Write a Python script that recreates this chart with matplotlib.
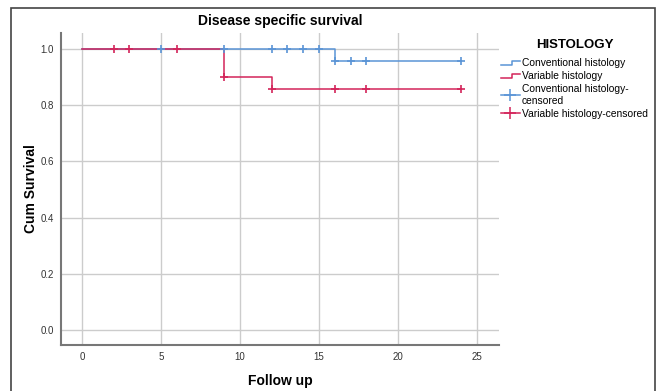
import matplotlib.pyplot as plt
from matplotlib.legend_handler import HandlerBase
from matplotlib.lines import Line2D
from matplotlib.patches import Rectangle

plt.rcParams['font.family'] = ['Liberation Sans', 'DejaVu Sans']

# Kaplan-Meier steps (time, survival)
conv_t = [0, 16, 24]
conv_s = [1.0, 0.958, 0.958]
var_t = [0, 9, 12, 24]
var_s = [1.0, 0.9, 0.857, 0.857]

# censored observations
conv_cens_t = [5, 9, 12, 13, 14, 15, 16, 17, 18, 24]
conv_cens_s = [1.0, 1.0, 1.0, 1.0, 1.0, 1.0, 0.958, 0.958, 0.958, 0.958]
var_cens_t = [2, 3, 6, 9, 12, 16, 18, 24]
var_cens_s = [1.0, 1.0, 1.0, 0.9, 0.857, 0.857, 0.857, 0.857]

blue = '#5a94d6'
red = '#d3245a'


class StepHandler(HandlerBase):
    def create_artists(self, legend, orig, xd, yd, w, h, fs, trans):
        x = [xd, xd + w * 0.6, xd + w * 0.6, xd + w]
        y = [yd + h * 0.15, yd + h * 0.15, yd + h * 0.75, yd + h * 0.75]
        return [Line2D(x, y, color=orig.get_color(), lw=1.1, transform=trans)]


class CrossHandler(HandlerBase):
    def create_artists(self, legend, orig, xd, yd, w, h, fs, trans):
        c = orig.get_color()
        ln = Line2D([xd, xd + w], [yd + h / 2] * 2, color=c, lw=1.1, transform=trans)
        mk = Line2D([xd + w / 2], [yd + h / 2], ls='none', marker='+', ms=9,
                    mew=1.1, color=c, transform=trans)
        return [ln, mk]


fig = plt.figure(figsize=(6.57, 3.91), dpi=100)
ax = fig.add_axes([0.0928, 0.1176, 0.6667, 0.798])

l1, = ax.step(conv_t, conv_s, where='post', color=blue, lw=1.1)
l2, = ax.step(var_t, var_s, where='post', color=red, lw=1.1)
c1, = ax.plot(conv_cens_t, conv_cens_s, ls='none', marker='+', ms=6, mew=1.2, color=blue)
c2, = ax.plot(var_cens_t, var_cens_s, ls='none', marker='+', ms=6, mew=1.2, color=red)

ax.set_xlim(-1.33, 26.4)
ax.set_ylim(-0.053, 1.057)
ax.set_xticks([0, 5, 10, 15, 20, 25])
ax.set_yticks([0.0, 0.2, 0.4, 0.6, 0.8, 1.0])
ax.set_yticklabels(['0.0', '0.2', '0.4', '0.6', '0.8', '1.0'])
ax.tick_params(length=0, labelsize=7, colors='#333333', pad=5)
ax.grid(True, color='#cccccc', lw=1)
ax.set_axisbelow(True)
for s in ['top', 'right']:
    ax.spines[s].set_visible(False)
for s in ['left', 'bottom']:
    ax.spines[s].set_color('#777777')
    ax.spines[s].set_linewidth(1.5)

ax.set_title('Disease specific survival', fontsize=10, fontweight='bold', pad=6)
ax.set_xlabel('Follow up', fontsize=10, fontweight='bold', labelpad=9)
ax.set_ylabel('Cum Survival', fontsize=10, fontweight='bold', labelpad=2)

fig.text(575 / 657, 1 - 45 / 391, 'HISTOLOGY', fontsize=9.5, fontweight='bold',
         ha='center', va='center')
leg = fig.legend([l1, l2, c1, c2],
                 ['Conventional histology', 'Variable histology',
                  'Conventional histology-\ncensored', 'Variable histology-censored'],
                 handler_map={l1: StepHandler(), l2: StepHandler(),
                              c1: CrossHandler(), c2: CrossHandler()},
                 loc='upper left', bbox_to_anchor=(0.762, 1 - 58 / 391), frameon=False,
                 fontsize=7.4, handlelength=1.9, handletextpad=0.15,
                 labelspacing=0.3, borderaxespad=0, borderpad=0)

fig.patches.append(Rectangle((11 / 657, -0.1), 644 / 657, 1.1 - 8 / 391,
                             transform=fig.transFigure, fill=False,
                             edgecolor='#444444', lw=1.2))

fig.savefig('out.png', dpi=100)
